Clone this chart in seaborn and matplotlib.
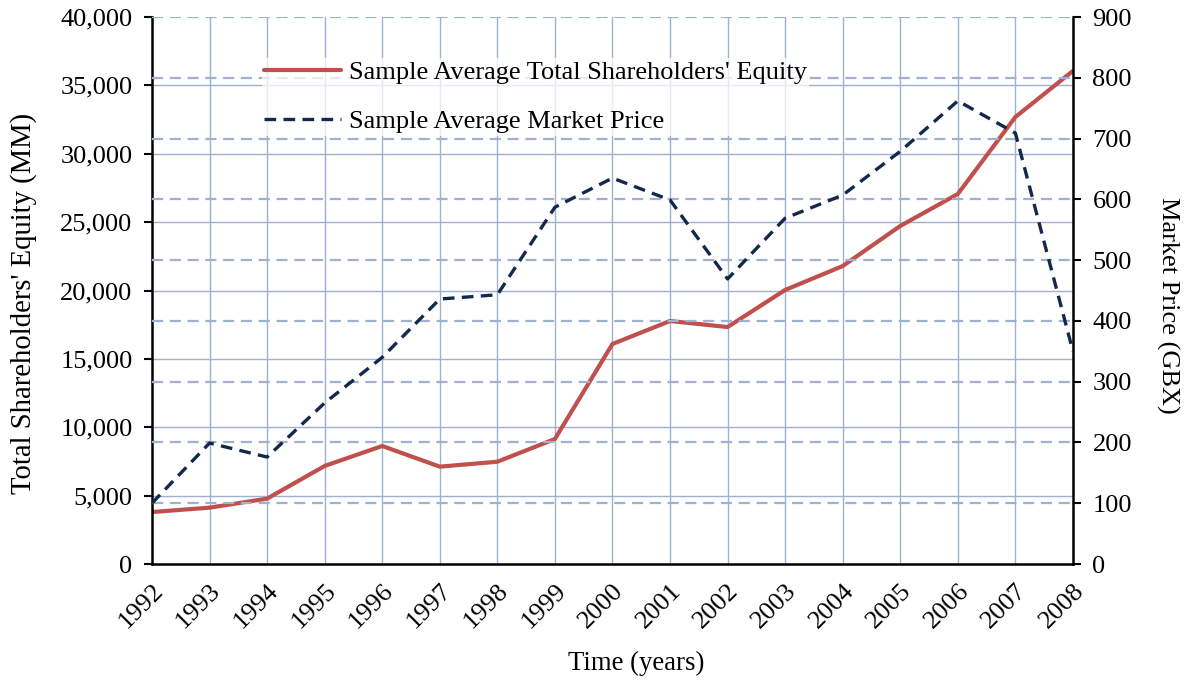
"""Equity vs market price, twin axis line chart"""
import matplotlib
matplotlib.use('Agg')
import matplotlib.pyplot as plt
import matplotlib.ticker as mticker
import pandas as pd
import seaborn as sns

years = [1992, 1993, 1994, 1995, 1996, 1997, 1998, 1999, 2000,
         2001, 2002, 2003, 2004, 2005, 2006, 2007, 2008]
equity = [3800, 4120, 4780, 7170, 8630, 7120, 7480, 9140, 16090,
          17770, 17330, 20040, 21790, 24720, 27060, 32690, 36060]
price = [100, 199, 176, 265, 340, 436, 443, 587, 635,
         599, 469, 569, 607, 679, 762, 709, 350]
left_ticks = [0, 5000, 10000, 15000, 20000, 25000, 30000, 35000, 40000]
right_ticks = [0, 100, 200, 300, 400, 500, 600, 700, 800, 900]

df = pd.DataFrame({"year": years, "equity": equity, "price": price})

sns.set_style("white")
plt.rcParams['font.family'] = ['Liberation Serif', 'DejaVu Serif']
plt.rcParams['text.color'] = 'black'
plt.rcParams['axes.labelcolor'] = 'black'

grid_col = '#9eb2cf'
red = '#c0504d'
navy = '#14284b'

fig = plt.figure(figsize=(11.89, 6.81), dpi=100)
ax = fig.add_axes([0.1278, 0.1718, 0.7746, 0.8032])
ax2 = ax.twinx()

# grid: solid for left axis & years, dashed for right axis
for y in left_ticks[1:-1]:
    ax.axhline(y, color=grid_col, lw=1.0, zorder=0)
for yr in years[1:-1]:
    ax.axvline(yr, color=grid_col, lw=1.0, zorder=0)
for p in right_ticks[1:]:
    ax2.axhline(p, color=grid_col, lw=1.6, ls=(0, (5, 3)), zorder=0)

sns.lineplot(data=df, x="year", y="equity", ax=ax, color=red, lw=3,
             label="Sample Average Total Shareholders' Equity", legend=False)
sns.lineplot(data=df, x="year", y="price", ax=ax2, color=navy, lw=2.4,
             ls=(0, (3.5, 2.2)), label="Sample Average Market Price", legend=False)

ax.set_xlim(1992, 2008)
ax.set_ylim(0, 40000)
ax2.set_ylim(0, 900)
ax.set_xticks(years)
ax.set_xticklabels([str(y) for y in years], rotation=45, ha='right',
                   rotation_mode='anchor')
ax.set_yticks(left_ticks)
ax.yaxis.set_major_formatter(mticker.FuncFormatter(lambda v, p: f"{int(v):,}"))
ax2.set_yticks(right_ticks)

for a in (ax, ax2):
    a.tick_params(direction='out', length=6, width=1.5, colors='black',
                  labelsize=19, pad=8)
    for s in a.spines.values():
        s.set_visible(False)
ax.spines['left'].set_visible(True)
ax.spines['bottom'].set_visible(True)
ax2.spines['right'].set_visible(True)
for s in (ax.spines['left'], ax.spines['bottom'], ax2.spines['right']):
    s.set_color('black')
    s.set_linewidth(1.8)
ax.tick_params(axis='x', pad=5)
ax.tick_params(axis='y', left=True)
ax2.tick_params(axis='y', right=True)

ax.set_xlabel("Time (years)", fontsize=19.3, va='center', ha='center')
ax.xaxis.set_label_coords(0.5255, -0.181)
ax.set_ylabel("Total Shareholders' Equity (MM)", fontsize=20.6, va='center', ha='center')
ax.yaxis.set_label_coords(-0.139, 0.477)
ax2.set_ylabel("Market Price (GBX)", fontsize=19, rotation=270, va='center', ha='center')
ax2.yaxis.set_label_coords(1.103, 0.4735)

h1, l1 = ax.get_legend_handles_labels()
h2, l2 = ax2.get_legend_handles_labels()
leg = ax2.legend(h1 + h2, l1 + l2, loc='center left', bbox_to_anchor=(0.119, 0.854),
                 frameon=True, framealpha=0.75, edgecolor='none', facecolor='white',
                 fontsize=19, handlelength=2.9, handletextpad=0.3, labelspacing=0.95,
                 borderpad=0.1, borderaxespad=0)

fig.savefig("out.png", dpi=100)
